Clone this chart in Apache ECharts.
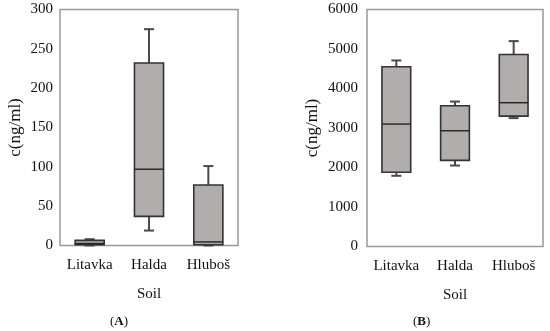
<!DOCTYPE html>
<html>
<head>
<meta charset="utf-8">
<script src="https://cdn.jsdelivr.net/npm/echarts@6/dist/echarts.min.js"></script>
<style>html,body{margin:0;padding:0;background:#fff}#c{width:550px;height:331px}</style>
</head>
<body>
<div id="c"></div>
<script>
const categories = ['Litavka', 'Halda', 'Hluboš'];
// Panel A (ng/ml)
const minA = [0, 19, 0];
const q1A = [1, 37, 1];
const medA = [2.5, 97, 4.5];
const q3A = [6.5, 232, 77];
const maxA = [8, 275, 101];
// Panel B (ng/ml)
const minB = [1790, 2050, 3250];
const q1B = [1880, 2180, 3300];
const medB = [3100, 2930, 3640];
const q3B = [4550, 3565, 4860];
const maxB = [4710, 3670, 5200];
const yTicksA = {min: 0, max: 300, interval: 50};
const yTicksB = {min: 0, max: 6000, interval: 1000};

function rows(mn, q1, md, q3, mx) {
  return categories.map((c, i) => [i, mn[i], q1[i], md[i], q3[i], mx[i]]);
}

const FONT = '"Liberation Serif", "Times New Roman", serif';

function renderBox(params, api) {
  const idx = api.value(0);
  const p = [1, 2, 3, 4, 5].map(k => api.coord([idx, api.value(k)]));
  const cx = p[0][0];
  const band = api.size([1, 0])[0];
  const hw = band * 0.245;
  const cw = 5;
  const yMin = p[0][1], yQ1 = p[1][1], yMed = p[2][1], yQ3 = p[3][1], yMax = p[4][1];
  const wStyle = {stroke: '#4a4a4a', lineWidth: 2, fill: null};
  const children = [
    {type: 'line', shape: {x1: cx, y1: yQ3, x2: cx, y2: yMax}, style: wStyle},
    {type: 'line', shape: {x1: cx - cw, y1: yMax, x2: cx + cw, y2: yMax}, style: wStyle},
    {type: 'line', shape: {x1: cx, y1: yQ1, x2: cx, y2: yMin}, style: wStyle},
    {type: 'line', shape: {x1: cx - cw, y1: yMin, x2: cx + cw, y2: yMin}, style: wStyle},
    {type: 'rect', shape: {x: cx - hw, y: yQ3, width: hw * 2, height: yQ1 - yQ3},
      style: {fill: '#b1adad', stroke: '#333', lineWidth: 1.6}},
    {type: 'line', shape: {x1: cx - hw, y1: yMed, x2: cx + hw, y2: yMed},
      style: {stroke: '#222', lineWidth: 1.4}}
  ];
  return {type: 'group', children: children};
}

function xAxis(gi) {
  return {
    type: 'category', gridIndex: gi, data: categories,
    axisLine: {show: false}, axisTick: {show: false}, splitLine: {show: false},
    axisLabel: {fontFamily: FONT, fontSize: 15, color: '#111', margin: 12, interval: 0, hideOverlap: false},
    name: 'Soil', nameLocation: 'middle', nameGap: 41,
    nameTextStyle: {fontFamily: FONT, fontSize: 15, color: '#111'}
  };
}
function yAxis(gi, t, gap, margin) {
  return {
    type: 'value', gridIndex: gi, min: t.min, max: t.max, interval: t.interval,
    axisLine: {show: false}, axisTick: {show: false}, splitLine: {show: false},
    axisLabel: {fontFamily: FONT, fontSize: 15, color: '#111', margin: margin,
      formatter: v => String(v)},
    name: 'c(ng/ml)', nameLocation: 'middle', nameGap: gap, nameRotate: 90,
    nameTextStyle: {fontFamily: FONT, fontSize: 17, color: '#111'}
  };
}

const chart = echarts.init(document.getElementById('c'), null, {renderer: 'canvas'});
chart.setOption({
  animation: false,
  backgroundColor: '#fff',
  grid: [
    {left: 60, width: 178, top: 9.5, height: 236, show: true, borderColor: '#999', borderWidth: 1.5, backgroundColor: 'transparent'},
    {left: 367, width: 176, top: 9.5, height: 237, show: true, borderColor: '#999', borderWidth: 1.5, backgroundColor: 'transparent'}
  ],
  xAxis: [xAxis(0), xAxis(1)],
  yAxis: [yAxis(0, yTicksA, 36, 7), yAxis(1, yTicksB, 46, 9)],
  series: [
    {type: 'custom', xAxisIndex: 0, yAxisIndex: 0, renderItem: renderBox,
      encode: {x: 0, y: [1, 2, 3, 4, 5]}, data: rows(minA, q1A, medA, q3A, maxA)},
    {type: 'custom', xAxisIndex: 1, yAxisIndex: 1, renderItem: renderBox,
      encode: {x: 0, y: [1, 2, 3, 4, 5]}, data: rows(minB, q1B, medB, q3B, maxB)}
  ],
  graphic: [
    {type: 'text', left: 110, top: 315, style: {
      text: '({b|A})', rich: {b: {fontWeight: 'bold', fontFamily: FONT, fontSize: 13, fill: '#111'}},
      fontFamily: FONT, fontSize: 13, fill: '#111'}},
    {type: 'text', left: 413, top: 315, style: {
      text: '({b|B})', rich: {b: {fontWeight: 'bold', fontFamily: FONT, fontSize: 13, fill: '#111'}},
      fontFamily: FONT, fontSize: 13, fill: '#111'}}
  ]
});
</script>
</body>
</html>
